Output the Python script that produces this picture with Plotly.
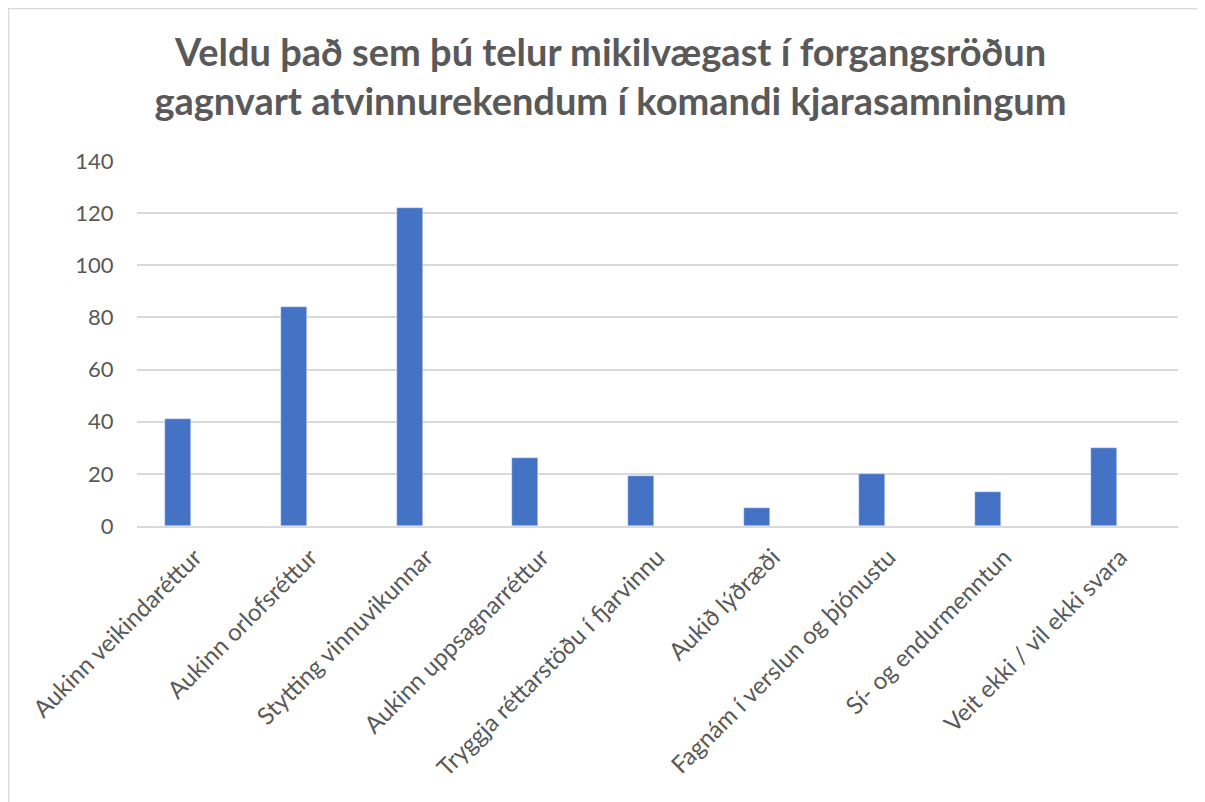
import plotly.graph_objects as go

# survey answers
categories = [
    "Aukinn veikindaréttur",
    "Aukinn orlofsréttur",
    "Stytting vinnuvikunnar",
    "Aukinn uppsagnarréttur",
    "Tryggja réttarstöðu í fjarvinnu",
    "Aukið lýðræði",
    "Fagnám í verslun og þjónustu",
    "Sí- og endurmenntun",
    "Veit ekki / vil ekki svara",
]
counts = [41, 84, 122, 26, 19, 7, 20, 13, 30]
y_ticks = [0, 20, 40, 60, 80, 100, 120, 140]

title = ("Veldu það sem þú telur mikilvægast í forgangsröðun<br>"
         "gagnvart atvinnurekendum í komandi kjarasamningum")

font_family = "Lato, 'Open Sans', sans-serif"
grey = "#595959"

fig = go.Figure()
fig.add_trace(go.Bar(
    x=categories,
    y=counts,
    marker_color="#4472C4",
    width=0.225,
    offset=-0.255,
    hovertemplate="%{x}: %{y}<extra></extra>",
))

# page has an 8px body margin, so margins are shifted by that amount
fig.update_layout(
    width=1205,
    height=802,
    paper_bgcolor="white",
    plot_bgcolor="white",
    showlegend=False,
    margin=dict(l=129, r=35, t=153, b=284),
    title=dict(
        text=title,
        x=0.5,
        xanchor="center",
        y=1 - 58 / 802,
        yanchor="top",
        font=dict(family=font_family, size=38, color=grey, weight="bold"),
    ),
    font=dict(family=font_family, color=grey),
    bargap=0,
)

fig.update_xaxes(
    tickangle=-45,
    tickfont=dict(size=24, color=grey),
    showgrid=False,
    showline=True,
    linecolor="#d9d9d9",
    linewidth=1.5,
    ticks="outside",
    ticklen=6,
    tickcolor="rgba(0,0,0,0)",
)
fig.update_yaxes(
    range=[0, 140],
    tickvals=y_ticks,
    tickfont=dict(size=22, color=grey),
    showgrid=True,
    gridcolor="#d9d9d9",
    gridwidth=1.5,
    zeroline=False,
    ticks="outside",
    ticklen=18,
    tickcolor="rgba(0,0,0,0)",
)

# outer chart border (as in the spreadsheet export)
fig.add_shape(type="rect", xref="paper", yref="paper",
              x0=-128.5 / 1041, x1=1.1,
              y0=-1.0, y1=1 + 152.5 / 365,
              line=dict(color="#d9d9d9", width=1.5), layer="below")

fig.write_html("out.html")
